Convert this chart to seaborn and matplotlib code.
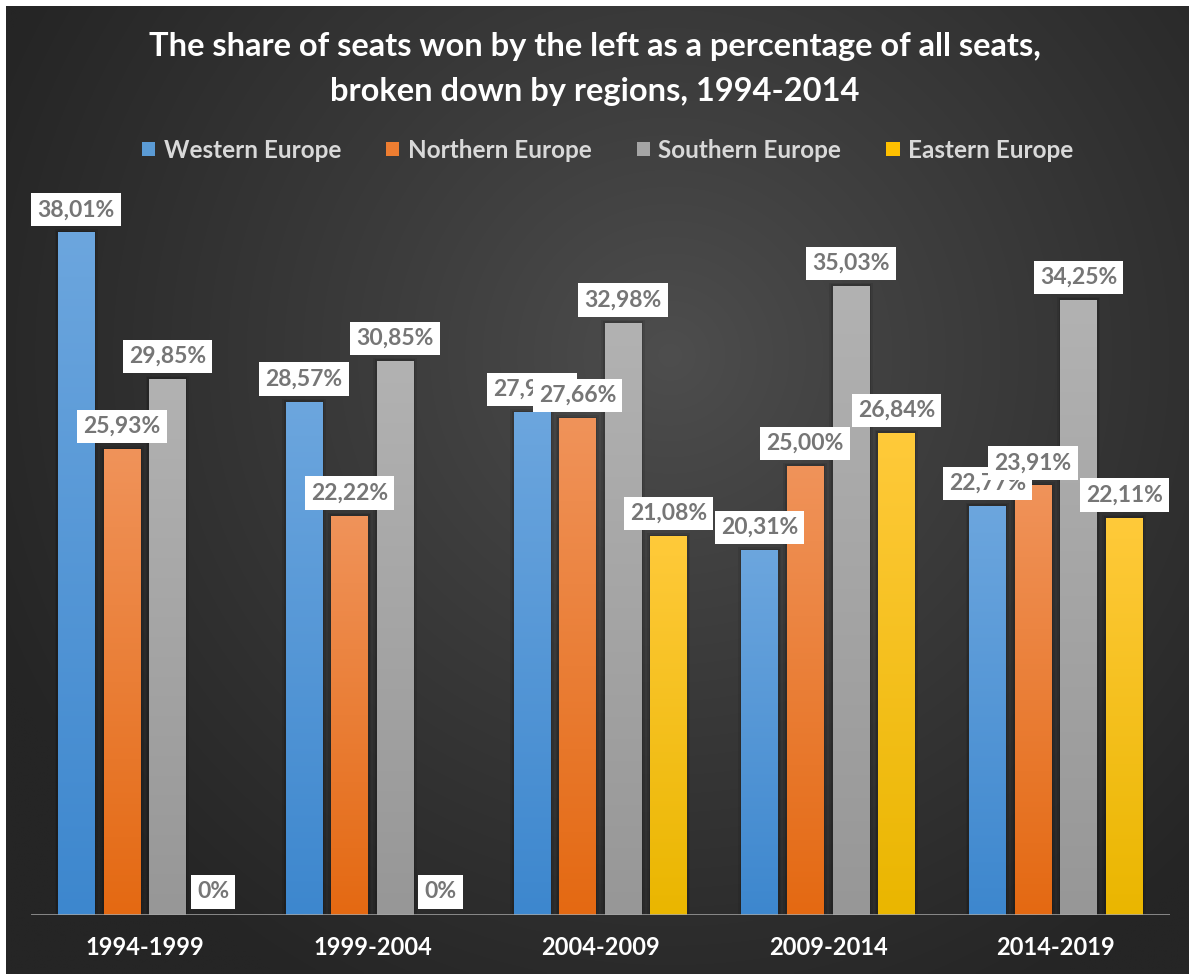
import numpy as np
import pandas as pd
import matplotlib
matplotlib.use("Agg")
import matplotlib.pyplot as plt
import seaborn as sns
from matplotlib.colors import to_rgb
from matplotlib.patches import Rectangle

# ---- data -------------------------------------------------------------
periods = ["1994-1999", "1999-2004", "2004-2009", "2009-2014", "2014-2019"]
regions = ["Western Europe", "Northern Europe", "Southern Europe", "Eastern Europe"]
western = [38.01, 28.57, 27.99, 20.31, 22.77]
northern = [25.93, 22.22, 27.66, 25.00, 23.91]
southern = [29.85, 30.85, 32.98, 35.03, 34.25]
eastern = [0.0, 0.0, 21.08, 26.84, 22.11]

title = ("The share of seats won by the left as a percentage of all seats,\n"
         "broken down by regions, 1994-2014")

# ---- styling ----------------------------------------------------------
base_colors = ["#5B9BD5", "#ED7D31", "#A5A5A5", "#FFC000"]
top_colors = ["#6CA6DE", "#F0935A", "#B2B2B2", "#FFCA3A"]
bottom_colors = ["#3D87CE", "#E46912", "#979797", "#EAB600"]

df = pd.DataFrame({
    "period": periods * 4,
    "region": np.repeat(regions, len(periods)),
    "share": western + northern + southern + eastern,
})

sns.set_theme(style="white")
plt.rcParams["font.family"] = ["Lato", "DejaVu Sans"]

W, H = 1189, 975
fig = plt.figure(figsize=(W / 100, H / 100), dpi=100, facecolor="white")

# dark radial-gradient chart background
bg = fig.add_axes([6 / W, 1 / H, (W - 6) / W, (H - 7) / H], zorder=0)
ny, nx = 300, 360
yy, xx = np.mgrid[0:ny, 0:nx]
cx, cy = 0.56 * nx, 0.36 * ny
r = np.sqrt(((xx - cx) / (0.62 * nx)) ** 2 + ((yy - cy) / (0.75 * ny)) ** 2)
r = np.clip(r, 0, 1)
c_in, c_out = 78 / 255, 37 / 255
shade = c_in + (c_out - c_in) * r ** 0.9
bg.imshow(np.dstack([shade, shade, shade]), aspect="auto", extent=(0, 1, 0, 1),
          interpolation="bilinear")
bg.set_axis_off()

# plotting area
ax = fig.add_axes([30.7 / W, 60 / H, 1139 / W, 718 / H], zorder=1)
ax.patch.set_alpha(0)

sns.barplot(data=df, x="period", y="share", hue="region", order=periods,
            hue_order=regions, palette=base_colors, width=0.8, gap=0.2,
            saturation=1, errorbar=None, legend=False, ax=ax)

ax.set_xlim(-0.5, len(periods) - 0.5)
ax.set_ylim(0, 40)

px_x = 1 / (1139 / len(periods))   # data units per pixel (x)
px_y = 40 / 718                    # data units per pixel (y)

for k, container in enumerate(ax.containers):
    top = np.array(to_rgb(top_colors[k]))
    bot = np.array(to_rgb(bottom_colors[k]))
    for bar in container.patches:
        x, w, h = bar.get_x(), bar.get_width(), bar.get_height()
        if h > 0:
            # faint shadow around the bar
            for grow, alpha in [(3.5, 0.08), (1.8, 0.12)]:
                ax.add_patch(Rectangle((x - grow * px_x, 0), w + 2 * grow * px_x,
                                       h + grow * px_y, facecolor="black",
                                       edgecolor="none", alpha=alpha, zorder=1.5))
            t = np.linspace(0, 1, 256)[:, None]
            grad = top[None, :] * (1 - t) + bot[None, :] * t
            ax.imshow(grad[:, None, :], extent=(x, x + w, 0, h), aspect="auto",
                      interpolation="bilinear", zorder=2)
        bar.set_visible(False)
        label = "0%" if h == 0 else f"{h:.2f}".replace(".", ",") + "%"
        ax.annotate(label, xy=(x + w / 2, h), xytext=(0, 9),
                    textcoords="offset points", ha="center", va="bottom",
                    fontsize=16.5, fontweight="bold", color="#767676",
                    bbox=dict(boxstyle="square,pad=0.27", fc="white", ec="none"),
                    zorder=5)

ax.set_aspect("auto")
ax.set_xlim(-0.5, len(periods) - 0.5)
ax.set_ylim(0, 40)

ax.axhline(0, color="#A6A6A6", lw=1.8, zorder=3)
for s in ax.spines.values():
    s.set_visible(False)
ax.set_yticks([])
ax.set_xlabel("")
ax.set_ylabel("")
ax.tick_params(axis="x", length=0, pad=15)
for lab in ax.get_xticklabels():
    lab.set_color("white")
    lab.set_fontweight("bold")
    lab.set_fontsize(17)

# title and legend
fig.text(0.5, (H - 69) / H, title, ha="center", va="center", color="white",
         fontsize=23.5, fontweight="bold", linespacing=1.65)

handles = [Rectangle((0, 0), 1, 1, facecolor=c, edgecolor="none") for c in base_colors]
fig.legend(handles, regions, loc="center", bbox_to_anchor=(0.511, (H - 150) / H),
           ncol=4, frameon=False, handlelength=0.55, handleheight=0.55,
           handletextpad=0.35, columnspacing=1.85,
           prop={"weight": "bold", "size": 17.5}, labelcolor="#D9D9D9")

fig.savefig("out.png", dpi=100, facecolor="white")
